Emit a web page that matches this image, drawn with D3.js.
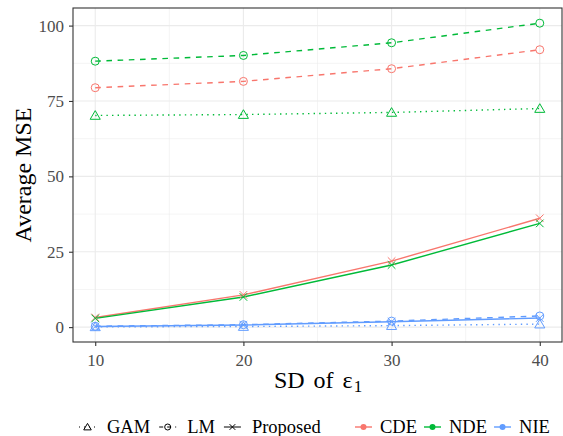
<!DOCTYPE html>
<html>
<head>
<meta charset="utf-8">
<script src="https://cdn.jsdelivr.net/npm/d3@7"></script>
<style>
  body { margin: 0; background: #fff; }
  text { font-family: "Liberation Serif", "DejaVu Serif", serif; }
</style>
</head>
<body>
<svg id="chart" width="563" height="436"></svg>
<script>
// data
const sdLevels = [10, 20, 30, 40];
const effects = ["CDE", "NDE", "NIE"];
const methods = ["GAM", "LM", "Proposed"];

const cdeLM = [79.4, 81.5, 85.7, 92.0];
const ndeLM = [88.2, 90.1, 94.3, 100.8];
const ndeGAM = [70.2, 70.5, 71.2, 72.5];
const cdeProposed = [3.2, 10.7, 21.9, 36.1];
const ndeProposed = [2.9, 10.0, 20.6, 34.4];
const nieProposed = [0.2, 0.7, 1.8, 3.0];
const nieLM = [0.3, 0.8, 2.0, 3.7];
const nieGAM = [0.1, 0.2, 0.5, 1.0];

const yTicks = [0, 25, 50, 75, 100];

const series = [
  { effect: "CDE", method: "LM", values: cdeLM },
  { effect: "NDE", method: "LM", values: ndeLM },
  { effect: "NDE", method: "GAM", values: ndeGAM },
  { effect: "CDE", method: "Proposed", values: cdeProposed },
  { effect: "NDE", method: "Proposed", values: ndeProposed },
  { effect: "NIE", method: "Proposed", values: nieProposed },
  { effect: "NIE", method: "LM", values: nieLM },
  { effect: "NIE", method: "GAM", values: nieGAM }
];

const colour = d3.scaleOrdinal().domain(effects).range(["#F8766D", "#00BA38", "#619CFF"]);
const dash = { GAM: "1.4,4.2", LM: "5.6,5.6", Proposed: null };

const svg = d3.select("#chart");
const panel = { left: 73, right: 562, top: 8, bottom: 342 };

// ggplot style 5% expansion
const xr = d3.extent(sdLevels);
const xpad = (xr[1] - xr[0]) * 0.05;
const x = d3.scaleLinear().domain([xr[0] - xpad, xr[1] + xpad]).range([panel.left, panel.right]);

const allY = series.flatMap(s => s.values);
const yr = d3.extent(allY);
const ypad = (yr[1] - yr[0]) * 0.05;
const y = d3.scaleLinear().domain([yr[0] - ypad, yr[1] + ypad]).range([panel.bottom, panel.top]);

// grid
const minorX = sdLevels.slice(0, -1).map((d, i) => (d + sdLevels[i + 1]) / 2);
const minorY = yTicks.slice(0, -1).map((d, i) => (d + yTicks[i + 1]) / 2);
const grid = svg.append("g");
grid.selectAll(".mx").data(minorX).enter().append("line")
  .attr("x1", d => x(d)).attr("x2", d => x(d))
  .attr("y1", panel.top).attr("y2", panel.bottom)
  .attr("stroke", "#EBEBEB").attr("stroke-width", 0.55);
grid.selectAll(".my").data(minorY).enter().append("line")
  .attr("y1", d => y(d)).attr("y2", d => y(d))
  .attr("x1", panel.left).attr("x2", panel.right)
  .attr("stroke", "#EBEBEB").attr("stroke-width", 0.55);
grid.selectAll(".gx").data(sdLevels).enter().append("line")
  .attr("x1", d => x(d)).attr("x2", d => x(d))
  .attr("y1", panel.top).attr("y2", panel.bottom)
  .attr("stroke", "#EBEBEB").attr("stroke-width", 1.1);
grid.selectAll(".gy").data(yTicks).enter().append("line")
  .attr("y1", d => y(d)).attr("y2", d => y(d))
  .attr("x1", panel.left).attr("x2", panel.right)
  .attr("stroke", "#EBEBEB").attr("stroke-width", 1.1);

// lines
const line = d3.line().x((d, i) => x(sdLevels[i])).y(d => y(d));
svg.selectAll(".series").data(series).enter().append("path")
  .attr("d", d => line(d.values))
  .attr("fill", "none")
  .attr("stroke", d => colour(d.effect))
  .attr("stroke-width", 1.4)
  .attr("stroke-dasharray", d => dash[d.method]);

// point shapes: GAM triangle, LM circle, Proposed cross
function drawShape(g, method, col, r) {
  if (method === "LM") {
    g.append("circle").attr("r", r).attr("fill", "none").attr("stroke", col).attr("stroke-width", 1);
  } else if (method === "GAM") {
    const h = r * 1.2;
    g.append("path").attr("d", `M0,${-h}L${h * 1.05},${h * 0.8}L${-h * 1.05},${h * 0.8}Z`)
      .attr("fill", "none").attr("stroke", col).attr("stroke-width", 1);
  } else {
    const c = r * 0.95;
    g.append("path").attr("d", `M${-c},${-c}L${c},${c}M${-c},${c}L${c},${-c}`)
      .attr("stroke", col).attr("stroke-width", 1);
  }
}

series.forEach(s => {
  s.values.forEach((v, i) => {
    const g = svg.append("g").attr("transform", `translate(${x(sdLevels[i])},${y(v)})`);
    drawShape(g, s.method, colour(s.effect), 4);
  });
});

// panel border
svg.append("rect")
  .attr("x", panel.left).attr("y", panel.top)
  .attr("width", panel.right - panel.left).attr("height", panel.bottom - panel.top)
  .attr("fill", "none").attr("stroke", "#333333").attr("stroke-width", 1.1);

// axes
const xAxis = svg.append("g").attr("transform", `translate(0,${panel.bottom})`)
  .call(d3.axisBottom(x).tickValues(sdLevels).tickSize(4).tickPadding(4));
const yAxis = svg.append("g").attr("transform", `translate(${panel.left},0)`)
  .call(d3.axisLeft(y).tickValues(yTicks).tickSize(4).tickPadding(5));
[xAxis, yAxis].forEach(a => {
  a.attr("font-family", "Liberation Serif").attr("font-size", 17);
  a.select(".domain").remove();
  a.selectAll(".tick line").attr("stroke", "#333333").attr("stroke-width", 1.1);
  a.selectAll(".tick text").attr("fill", "#4D4D4D");
});
xAxis.selectAll(".tick text").attr("dy", "0.95em");

// axis titles
const xt = svg.append("text")
  .attr("x", 318).attr("y", 388)
  .attr("text-anchor", "middle").style("font-size", "24px").style("word-spacing", "3px")
  .attr("fill", "#000");
xt.append("tspan").text("SD of ε");
xt.append("tspan").attr("dy", 4).attr("dx", 1).style("font-size", "17px").text("1");

svg.append("text")
  .attr("transform", `translate(31,${(panel.top + panel.bottom) / 2}) rotate(-90)`)
  .attr("text-anchor", "middle").style("font-size", "24px").attr("fill", "#000")
  .text("Average MSE");

// legends
const legY = 427;
const keyW = 17;
function legend(items, startX, textGap, itemGap, keyFn) {
  let cx = startX;
  items.forEach(name => {
    const g = svg.append("g").attr("transform", `translate(${cx},${legY})`);
    keyFn(g, name);
    const t = svg.append("text").attr("x", cx + keyW + textGap).attr("y", legY + 6)
      .style("font-size", "18.5px").attr("fill", "#000").text(name);
    cx += keyW + textGap + t.node().getComputedTextLength() + itemGap;
  });
}

legend(methods, 79, 11, 9, (g, m) => {
  g.append("line").attr("x1", 0).attr("x2", keyW).attr("y1", 0).attr("y2", 0)
    .attr("stroke", "#000").attr("stroke-width", 1)
    .attr("stroke-dasharray", m === "GAM" ? "1,4" : (m === "LM" ? "4,4" : null));
  const c = g.append("g").attr("transform", `translate(${keyW / 2},0)`);
  drawShape(c, m, "#000", 3);
});

legend(effects, 355, 8, 7, (g, e) => {
  g.append("line").attr("x1", 0).attr("x2", keyW).attr("y1", 0).attr("y2", 0)
    .attr("stroke", colour(e)).attr("stroke-width", 1.4);
  g.append("circle").attr("cx", keyW / 2).attr("r", 3).attr("fill", colour(e));
});
</script>
</body>
</html>
